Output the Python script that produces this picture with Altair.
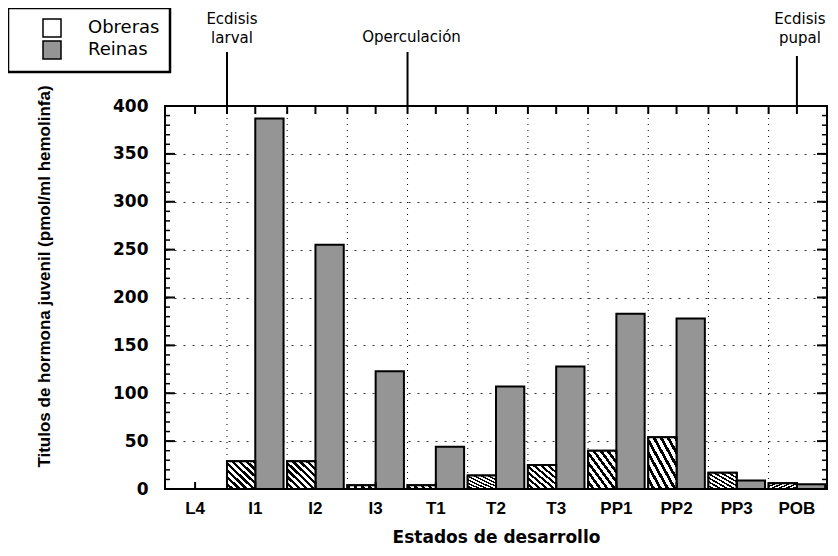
import altair as alt
import pandas as pd

# ---- data ----
stages = ["L4", "I1", "I2", "I3", "T1", "T2", "T3", "PP1", "PP2", "PP3", "POB"]
obreras = [0, 29, 29, 4, 4, 14, 25, 40, 54, 17, 6]
reinas = [0, 387, 255, 123, 44, 107, 128, 183, 178, 9, 5]
series_names = ["Obreras", "Reinas"]

y_major = [0, 50, 100, 150, 200, 250, 300, 350, 400]
y_minor = list(range(0, 401, 10))

ann_edge_stage = ["I1", "T1"]
ann_edge_text = ["Ecdisis\nlarval", "Operculación"]
ann_two_line = [True, False]
ann_mid_stage = ["POB"]
ann_mid_text = ["Ecdisis\npupal"]

W, H = 662, 383

rows = []
for s, o, r in zip(stages, obreras, reinas):
    rows.append({"stage": s, "serie": "Obreras", "value": o})
    rows.append({"stage": s, "serie": "Reinas", "value": r})
df = pd.DataFrame(rows)
df_obr = df[df.serie == "Obreras"]

stage_df = pd.DataFrame({"stage": stages})
inner_stage_df = pd.DataFrame({"stage": stages[1:]})
major_df = pd.DataFrame({"value": y_major})
minor_df = pd.DataFrame({"value": y_minor})
ann_edge_df = pd.DataFrame({"stage": ann_edge_stage, "txt": ann_edge_text, "two": ann_two_line})
ann_edge_two = ann_edge_df[ann_edge_df.two]
ann_edge_one = ann_edge_df[~ann_edge_df.two]
ann_mid_df = pd.DataFrame({"stage": ann_mid_stage, "txt": ann_mid_text})

xscale = alt.Scale(domain=stages, paddingInner=0.06, paddingOuter=0.03)
yscale = alt.Scale(domain=[0, 400], nice=False)
offscale = alt.Scale(domain=series_names, paddingInner=0, paddingOuter=0)

# hatch as a striped linear gradient
N = 8
stops = []
for k in range(N):
    a = k / N
    b = (k + 0.55) / N
    c = (k + 1) / N
    stops += [
        alt.GradientStop(offset=a, color="#ffffff"),
        alt.GradientStop(offset=b, color="#ffffff"),
        alt.GradientStop(offset=b, color="#000000"),
        alt.GradientStop(offset=c, color="#000000"),
    ]
hatch = alt.LinearGradient(gradient="linear", stops=stops, x1=0, y1=1, x2=1, y2=0)

x_axis = alt.Axis(
    title="Estados   de   desarrollo",
    labelAngle=0,
    tickSize=0,
    domain=False,
    grid=False,
    labelPadding=11,
    labelFont="Liberation Sans",
    labelFontWeight="bold",
    labelFontSize=17,
    labelColor="#000",
    titleFont="DejaVu Sans",
    titleFontWeight="bold",
    titleFontSize=17,
    titleColor="#000",
    titlePadding=13,
)
y_axis = alt.Axis(
    title="Titulos de hormona juvenil (pmol/ml hemolinfa)",
    values=y_major,
    tickSize=0,
    domain=False,
    grid=True,
    gridColor="#000",
    gridDash=[2, 7],
    gridWidth=1,
    gridOpacity=0.8,
    labelPadding=17,
    labelFont="DejaVu Sans",
    labelFontWeight="bold",
    labelFontSize=17,
    labelColor="#000",
    titleFont="Liberation Sans",
    titleFontWeight="bold",
    titleFontSize=17,
    titleColor="#000",
    titleX=-112,
    titleY=170,
)


def X(bp=None):
    if bp is None:
        return alt.X("stage:N", scale=xscale, axis=x_axis, sort=stages)
    return alt.X("stage:N", scale=xscale, axis=x_axis, sort=stages, bandPosition=bp)


def Y():
    return alt.Y("value:Q", scale=yscale, axis=y_axis)


bars = alt.Chart(df).mark_bar(stroke="#000", strokeWidth=2).encode(
    x=X(),
    xOffset=alt.XOffset("serie:N", scale=offscale),
    y=Y(),
    color=alt.Color(
        "serie:N",
        scale=alt.Scale(domain=series_names, range=["#ffffff", "#959595"]),
        legend=alt.Legend(
            title=None,
            orient="none",
            legendX=-157,
            legendY=-98,
            symbolType="square",
            symbolSize=324,
            symbolStrokeColor="#000",
            symbolStrokeWidth=1.5,
            symbolOffset=24,
            labelOffset=26,
            labelFont="DejaVu Sans",
            labelFontSize=18,
            labelColor="#000",
            strokeColor="#000",
            fillColor="#fff",
        ),
    ),
)

hatch_bars = alt.Chart(df_obr).mark_bar(stroke="#000", strokeWidth=2, fill=hatch).encode(
    x=X(),
    xOffset=alt.XOffset("serie:N", scale=offscale),
    y=Y(),
)

vgrid = alt.Chart(inner_stage_df).mark_rule(color="#000", strokeDash=[1, 5], strokeWidth=1).encode(
    x=X(0), y=alt.value(0), y2=alt.value(H)
)

top_ticks_edge = alt.Chart(inner_stage_df).mark_rule(color="#000", strokeWidth=2).encode(
    x=X(0), y=alt.value(0), y2=alt.value(8)
)
top_ticks_mid = alt.Chart(stage_df).mark_rule(color="#000", strokeWidth=2).encode(
    x=X(0.5), y=alt.value(0), y2=alt.value(8)
)
bot_ticks_mid = alt.Chart(stage_df).mark_rule(color="#000", strokeWidth=2).encode(
    x=X(0.5), y=alt.value(H - 7), y2=alt.value(H)
)

left_minor = alt.Chart(minor_df).mark_rule(color="#000", strokeWidth=1.5).encode(
    y=Y(), x=alt.value(0), x2=alt.value(5)
)
left_major = alt.Chart(major_df).mark_rule(color="#000", strokeWidth=2).encode(
    y=Y(), x=alt.value(0), x2=alt.value(10)
)
right_minor = alt.Chart(minor_df).mark_rule(color="#000", strokeWidth=1.5).encode(
    y=Y(), x=alt.value(W - 5), x2=alt.value(W)
)
right_major = alt.Chart(major_df).mark_rule(color="#000", strokeWidth=2).encode(
    y=Y(), x=alt.value(W - 10), x2=alt.value(W)
)

ann_edge_rule = alt.Chart(ann_edge_df).mark_rule(color="#000", strokeWidth=2).encode(
    x=X(0), y=alt.value(-54), y2=alt.value(0)
)
text_style = dict(
    font="DejaVu Sans", fontSize=15, baseline="bottom", align="center",
    lineBreak="\n", lineHeight=19, color="#000",
)
ann_two_text = alt.Chart(ann_edge_two).mark_text(dx=5, **text_style).encode(
    x=X(0), y=alt.value(-79), text="txt:N"
)
ann_one_text = alt.Chart(ann_edge_one).mark_text(dx=4, **text_style).encode(
    x=X(0), y=alt.value(-61), text="txt:N"
)
ann_mid_rule = alt.Chart(ann_mid_df).mark_rule(color="#000", strokeWidth=2).encode(
    x=X(0.5), y=alt.value(-50), y2=alt.value(0)
)
ann_mid_text_l = alt.Chart(ann_mid_df).mark_text(dx=3, **text_style).encode(
    x=X(0.5), y=alt.value(-79), text="txt:N"
)

chart = alt.layer(
    vgrid,
    bars,
    hatch_bars,
    top_ticks_edge,
    top_ticks_mid,
    bot_ticks_mid,
    left_minor,
    left_major,
    right_minor,
    right_major,
    ann_edge_rule,
    ann_two_text,
    ann_one_text,
    ann_mid_rule,
    ann_mid_text_l,
).properties(
    width=W,
    height=H,
    autosize=alt.AutoSizeParams(type="none"),
    padding={"left": 157, "top": 98, "right": 3, "bottom": 59},
    background="#ffffff",
).configure_view(
    stroke="#000", strokeWidth=2
).configure_legend(
    strokeWidth=2.5, padding=10, rowPadding=-6
)

chart.save("out.html", embed_options={"renderer": "svg", "actions": False})
